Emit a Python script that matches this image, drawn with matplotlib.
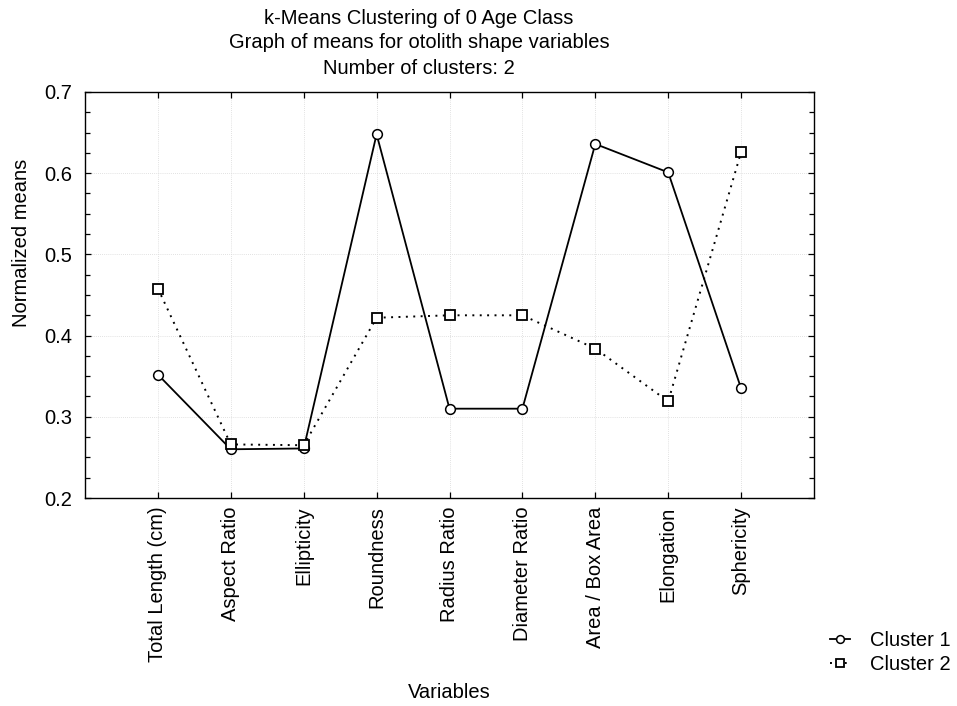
import matplotlib
matplotlib.use("Agg")
import matplotlib.pyplot as plt
from matplotlib.ticker import MultipleLocator, FormatStrFormatter

variables = ["Total Length (cm)", "Aspect Ratio", "Ellipticity", "Roundness",
             "Radius Ratio", "Diameter Ratio", "Area / Box Area", "Elongation",
             "Sphericity"]
cluster1 = [0.352, 0.260, 0.261, 0.648, 0.310, 0.310, 0.636, 0.601, 0.335]
cluster2 = [0.458, 0.266, 0.265, 0.422, 0.425, 0.425, 0.384, 0.319, 0.626]
title_lines = ["k-Means Clustering of 0 Age Class",
               "Graph of means for otolith shape variables",
               "Number of clusters: 2"]

plt.rcParams["font.family"] = ["Liberation Sans", "DejaVu Sans"]
FS = 14.5

W, H = 957, 706
fig = plt.figure(figsize=(W / 100, H / 100), dpi=100)
ax = fig.add_axes([85 / W, 1 - 498 / H, (814 - 85) / W, (498 - 92) / H])

x = list(range(1, len(variables) + 1))
ax.plot(x, cluster1, color="black", lw=1.3, ls="-", marker="o", ms=7,
        mfc="white", mec="black", mew=1.1, label="Cluster 1", zorder=3)
ax.plot(x, cluster2, color="black", lw=1.4, ls=(0, (1, 2.8)), marker="s", ms=6.5,
        mfc="white", mec="black", mew=1.3, label="Cluster 2", zorder=3)

ax.set_xlim(0, len(variables) + 1)
ax.set_ylim(0.2, 0.7)
ax.set_xticks(x)
ax.set_xticklabels(variables, rotation=90, fontsize=FS)
ax.yaxis.set_major_locator(MultipleLocator(0.1))
ax.yaxis.set_minor_locator(MultipleLocator(0.025))
ax.yaxis.set_major_formatter(FormatStrFormatter("%.1f"))
for lab in ax.get_yticklabels():
    lab.set_fontsize(FS)

ax.tick_params(axis="both", which="both", direction="in", top=True, right=True,
               color="black", width=0.9)
ax.tick_params(axis="both", which="major", length=4.5)
ax.tick_params(axis="y", which="minor", length=3.5)
ax.tick_params(axis="x", which="major", pad=6)
ax.tick_params(axis="y", which="major", pad=9)

ax.grid(True, which="major", color="#d8d8d8", ls=(0, (1, 1.5)), lw=0.6)
ax.set_axisbelow(True)
for sp in ax.spines.values():
    sp.set_linewidth(1.0)
    sp.set_color("black")

# titles and axis labels
for line, yc in zip(title_lines, [18, 43, 68]):
    fig.text(419 / W, 1 - yc / H, line, ha="center", va="center", fontsize=FS)
fig.text(22 / W, 1 - 243 / H, "Normalized means", rotation=90,
         ha="center", va="center", fontsize=FS)
fig.text(449 / W, 1 - 692 / H, "Variables", ha="center", va="center", fontsize=FS)

fig.legend(loc="upper left", bbox_to_anchor=(830 / W, 1 - 631 / H),
           frameon=False, fontsize=FS, handlelength=1.0, handletextpad=1.0,
           markerscale=0.8, labelspacing=0.25, borderpad=0, borderaxespad=0)

fig.savefig("out.png", dpi=100)
